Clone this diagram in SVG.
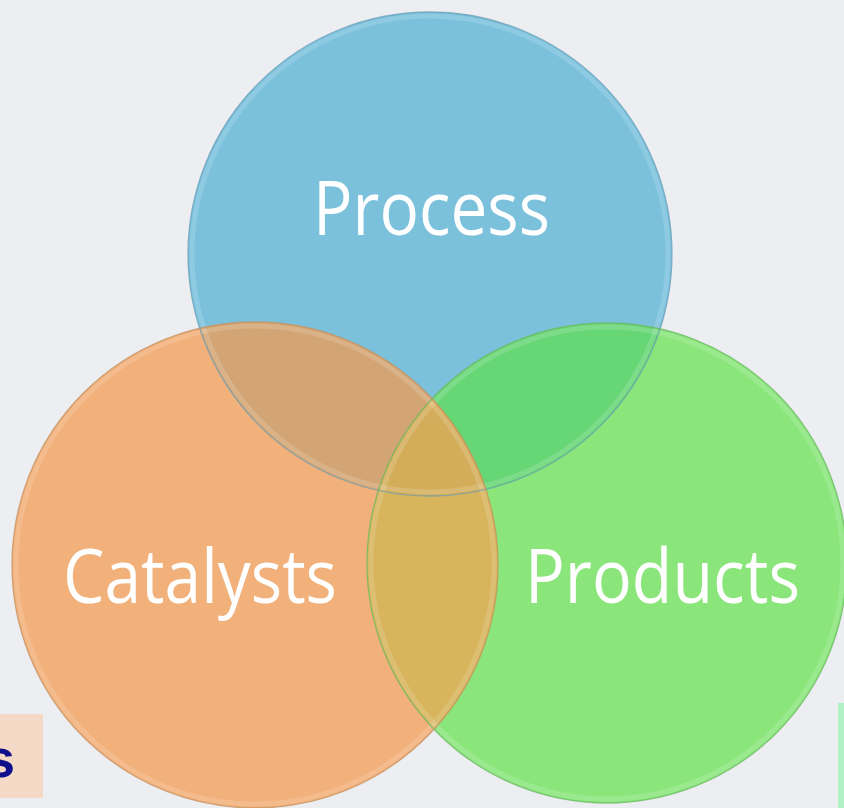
<svg xmlns="http://www.w3.org/2000/svg" width="844" height="808" viewBox="0 0 844 808">
  <style>
    .lbl { font-family: "Open Sans", "Noto Sans", "Liberation Sans", sans-serif; font-size: 75px; fill: #ffffff; text-anchor: middle; }
    .edge { fill: none; stroke-width: 1.3; stroke-opacity: 0.75; }
    .rim { fill: none; stroke-width: 5; stroke-opacity: 0.15; }
  </style>
  <defs>
    <clipPath id="cB"><circle cx="430" cy="254" r="242"/></clipPath>
    <clipPath id="cO"><circle cx="255" cy="565" r="243"/></clipPath>
    <clipPath id="cG"><circle cx="607" cy="563" r="240"/></clipPath>
  </defs>
  <rect x="0" y="0" width="844" height="808" fill="#eceef2"/>

  <g id="side-boxes">
    <rect x="0" y="714" width="43" height="84" fill="#f4d9c6"/>
    <text x="15" y="777" font-family="Liberation Sans, Arial, sans-serif" font-weight="bold" font-size="54" fill="#10108a" text-anchor="end">s</text>
    <rect x="838" y="703" width="6" height="105" fill="#b0f0c2"/>
  </g>

  <g id="node-process">
    <circle cx="430" cy="254" r="242" fill="#7bc1dc"/>
    <text class="lbl" x="431.5" y="235" textLength="237" lengthAdjust="spacingAndGlyphs">Process</text>
  </g>
  <g id="node-catalysts">
    <circle cx="255" cy="565" r="243" fill="#f2b07a"/>
    <text class="lbl" x="200" y="603" textLength="274" lengthAdjust="spacingAndGlyphs">Catalysts</text>
  </g>
  <g id="node-products">
    <circle cx="607" cy="563" r="240" fill="#8ae67b"/>
    <text class="lbl" x="662.5" y="603" textLength="275" lengthAdjust="spacingAndGlyphs">Products</text>
  </g>

  <g id="overlaps">
    <circle cx="255" cy="565" r="243" fill="#d3a574" clip-path="url(#cB)"/>
    <circle cx="607" cy="563" r="240" fill="#67d675" clip-path="url(#cB)"/>
    <circle cx="607" cy="563" r="240" fill="#d8b45c" clip-path="url(#cO)"/>
    <g clip-path="url(#cB)">
      <circle cx="607" cy="563" r="240" fill="#d4ad5a" clip-path="url(#cO)"/>
    </g>
  </g>

  <g id="outlines">
    <circle class="rim" cx="430" cy="254" r="238" stroke="#ffffff"/>
    <circle class="rim" cx="255" cy="565" r="239" stroke="#ffffff"/>
    <circle class="rim" cx="607" cy="563" r="236" stroke="#ffffff"/>
    <circle class="edge" cx="430" cy="254" r="242" stroke="#6a9fb6"/>
    <circle class="edge" cx="607" cy="563" r="240" stroke="#6cb863"/>
    <circle class="edge" cx="255" cy="565" r="243" stroke="#c6915f"/>
  </g>
</svg>
